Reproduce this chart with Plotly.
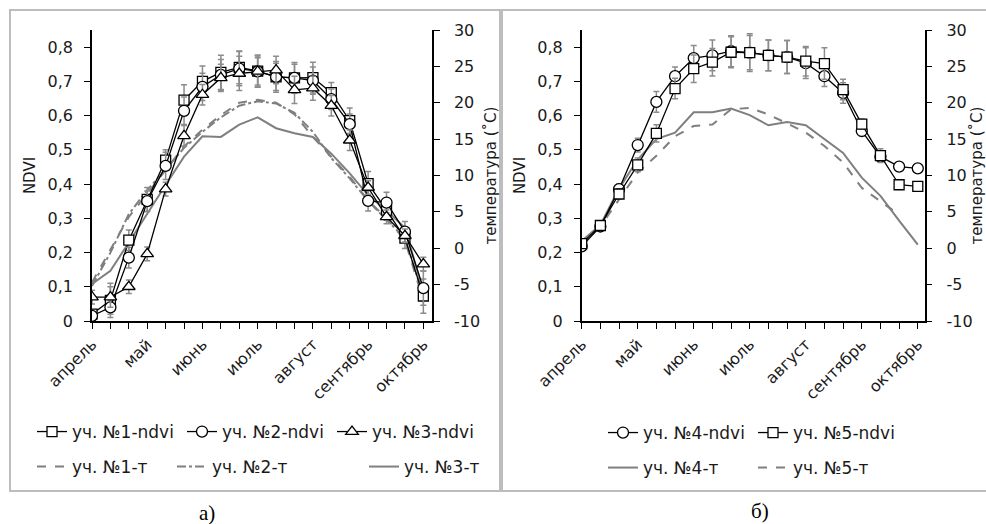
import plotly.graph_objects as go

W, H = 986, 524

# ---------------- data ----------------
idx = list(range(19))
month_ticks = ["апрель", "", "", "май", "", "", "июнь", "", "", "июль", "", "",
               "август", "", "", "сентябрь", "", "", "октябрь"]
ndvi_ticks = [0, 0.1, 0.2, 0.3, 0.4, 0.5, 0.6, 0.7, 0.8]
ndvi_tick_text = ["0", "0,1", "0,2", "0,3", "0,4", "0,5", "0,6", "0,7", "0,8"]
temp_ticks = [-10, -5, 0, 5, 10, 15, 20, 25, 30]
temp_tick_text = ["-10", "-5", "0", "5", "10", "15", "20", "25", "30"]

# panel a)
ndvi1 = [0.02, 0.06, 0.236, 0.355, 0.47, 0.645, 0.70, 0.726, 0.741, 0.73, 0.713, 0.71, 0.711, 0.667, 0.585, 0.401, 0.324, 0.242, 0.073]
ndvi2 = [0.015, 0.04, 0.185, 0.35, 0.453, 0.614, 0.684, 0.719, 0.737, 0.729, 0.713, 0.71, 0.702, 0.648, 0.575, 0.351, 0.346, 0.261, 0.096]
ndvi3 = [0.07, 0.07, 0.10, 0.196, 0.385, 0.541, 0.661, 0.71, 0.723, 0.729, 0.733, 0.675, 0.68, 0.629, 0.528, 0.39, 0.304, 0.249, 0.166]
err1 = [0.01, 0.05, 0.03, 0.035, 0.03, 0.045, 0.045, 0.05, 0.048, 0.047, 0.045, 0.045, 0.045, 0.03, 0.037, 0.036, 0.03, 0.03, 0.05]
err2 = [0.01, 0.02, 0.03, 0.03, 0.04, 0.04, 0.04, 0.045, 0.05, 0.045, 0.04, 0.04, 0.04, 0.03, 0.03, 0.03, 0.03, 0.03, 0.05]
err3 = [0.02, 0.03, 0.02, 0.02, 0.02, 0.03, 0.03, 0.04, 0.05, 0.04, 0.04, 0.04, 0.035, 0.03, 0.03, 0.02, 0.02, 0.02, 0.02]
temp1 = [-4.7, -0.3, 4.3, 7.5, 10.7, 14.0, 16.3, 18.3, 20.0, 20.4, 20.0, 18.4, 15.3, 12.6, 9.8, 6.6, 4.1, 1.1, -7.2]
temp2 = [-5.2, -0.6, 4.7, 8.0, 10.8, 13.8, 16.0, 18.0, 19.6, 20.2, 19.9, 18.6, 16.0, 12.4, 9.6, 6.5, 3.9, 1.4, -6.6]
temp3 = [-4.9, -3.1, 0.8, 4.8, 8.7, 12.6, 15.4, 15.3, 17.0, 18.0, 16.5, 15.8, 15.3, 13.0, 10.3, 7.3, 5.2, 2.8, -6.0]

# panel б)
ndvi4 = [0.218, 0.276, 0.385, 0.514, 0.64, 0.715, 0.768, 0.776, 0.788, 0.784, 0.776, 0.771, 0.753, 0.715, 0.666, 0.555, 0.48, 0.451, 0.446]
ndvi5 = [0.226, 0.279, 0.371, 0.456, 0.548, 0.679, 0.737, 0.756, 0.785, 0.784, 0.776, 0.771, 0.759, 0.752, 0.676, 0.575, 0.483, 0.398, 0.393]
err4 = [0.01, 0.01, 0.015, 0.02, 0.03, 0.027, 0.037, 0.045, 0.045, 0.055, 0.045, 0.048, 0.045, 0.03, 0.03, 0.015, 0.015, 0.0, 0.0]
err5 = [0.01, 0.01, 0.015, 0.02, 0.025, 0.03, 0.04, 0.04, 0.045, 0.05, 0.045, 0.048, 0.043, 0.046, 0.03, 0.015, 0.02, 0.0, 0.0]
temp4 = [1.0, 3.2, 8.2, 12.2, 15.0, 15.9, 18.7, 18.7, 19.2, 18.3, 16.9, 17.35, 16.9, 15.0, 13.1, 9.7, 7.2, 3.8, 0.5]
temp5 = [0.6, 3.0, 6.7, 10.4, 12.7, 15.4, 16.8, 17.0, 19.1, 19.3, 18.4, 17.2, 15.9, 14.05, 11.8, 8.3, 6.4, 4.6, None]

# ---------------- helpers ----------------
def fx(px):
    return px / W

def fy(py):
    return 1 - py / H

FONT = "DejaVu Sans"
TXT = "#1a1a1a"
GREY = "#7f7f7f"
ERR = "#8c8c8c"

fig = go.Figure()

def ndvi_trace(y, err, name, symbol, size, xa, ya, legend):
    return go.Scatter(
        x=idx, y=y, name=name, mode="lines+markers",
        xaxis=xa, yaxis=ya, legend=legend,
        line=dict(color="black", width=1.3),
        marker=dict(symbol=symbol, size=size, color="white",
                    line=dict(color="black", width=1.3)),
        error_y=dict(type="data", array=err, visible=True,
                     color=ERR, thickness=1.5, width=3),
    )

def temp_trace(y, name, dash, xa, ya, legend):
    return go.Scatter(
        x=idx, y=y, name=name, mode="lines",
        xaxis=xa, yaxis=ya, legend=legend,
        line=dict(color=GREY, width=2, dash=dash),
    )

# panel a) temperature on base axis (y), NDVI on overlay (y2)
fig.add_trace(temp_trace(temp1, "уч. №1-т", "dash", "x", "y", "legend2"))
fig.add_trace(temp_trace(temp2, "уч. №2-т", "dashdot", "x", "y", "legend5"))
fig.add_trace(temp_trace(temp3, "уч. №3-т", "solid", "x", "y", "legend6"))
fig.add_trace(ndvi_trace(ndvi1, err1, "уч. №1-ndvi", "square", 10, "x", "y2", "legend"))
fig.add_trace(ndvi_trace(ndvi2, err2, "уч. №2-ndvi", "circle", 11, "x", "y2", "legend"))
fig.add_trace(ndvi_trace(ndvi3, err3, "уч. №3-ndvi", "triangle-up", 11, "x", "y2", "legend"))

# panel б)
fig.add_trace(temp_trace(temp4, "уч. №4-т", "solid", "x2", "y3", "legend4"))
fig.add_trace(temp_trace(temp5, "уч. №5-т", "dash", "x2", "y3", "legend4"))
fig.add_trace(ndvi_trace(ndvi4, err4, "уч. №4-ndvi", "circle", 11, "x2", "y4", "legend3"))
fig.add_trace(ndvi_trace(ndvi5, err5, "уч. №5-ndvi", "square", 10, "x2", "y4", "legend3"))

tickfont = dict(family=FONT, size=16, color=TXT)
titlefont = dict(family=FONT, size=15, color=TXT)

def xaxis_cfg(dom, rmax):
    return dict(domain=dom, range=[0, rmax], tickvals=idx, ticktext=month_ticks,
                tickangle=-45, ticks="outside", ticklen=6, tickwidth=1.3,
                tickcolor="black", showline=True, linecolor="black", linewidth=1.5,
                showgrid=False, zeroline=False, tickfont=tickfont,
                fixedrange=True)

def temp_axis(anchor):
    return dict(domain=[fy(321), fy(30)], range=[-10, 30], side="right", anchor=anchor,
                tickvals=temp_ticks, ticktext=temp_tick_text, ticks="outside",
                ticklen=6, tickwidth=1.3, tickcolor="black", showline=True,
                linecolor="black", linewidth=1.5, showgrid=False, zeroline=False,
                tickfont=tickfont, ticklabelstandoff=11,
                title=dict(text="температура (˚C)", font=titlefont, standoff=6))

def ndvi_axis(anchor, over):
    return dict(overlaying=over, range=[0, 0.85], side="left", anchor=anchor,
                tickvals=ndvi_ticks, ticktext=ndvi_tick_text, ticks="outside",
                ticklen=6, tickwidth=1.3, tickcolor="black", showline=True,
                linecolor="black", linewidth=1.5, showgrid=False, zeroline=False,
                tickfont=tickfont, ticklabelstandoff=8,
                title=dict(text="NDVI", font=titlefont, standoff=8))

def legend_cfg(xpx, ypx):
    return dict(orientation="h", x=fx(xpx), xanchor="left", y=fy(ypx), yanchor="middle",
                entrywidth=105, entrywidthmode="pixels", itemwidth=30,
                font=dict(family=FONT, size=17, color=TXT),
                bgcolor="rgba(0,0,0,0)", borderwidth=0, traceorder="normal")

fig.update_layout(
    width=W, height=H,
    margin=dict(l=0, r=0, t=0, b=0, autoexpand=False),
    paper_bgcolor="white", plot_bgcolor="white",
    font=dict(family=FONT, size=15, color=TXT),
    hovermode=False,
    showlegend=True,
    xaxis=xaxis_cfg([fx(92), fx(432)], 18.47),
    yaxis=temp_axis("x"),
    yaxis2=ndvi_axis("x", "y"),
    xaxis2=xaxis_cfg([fx(581.7), fx(924.5)], 18.36),
    yaxis3=temp_axis("x2"),
    yaxis4=ndvi_axis("x2", "y3"),
    legend=legend_cfg(32, 432),
    legend2=legend_cfg(32, 467),
    legend5=legend_cfg(172, 467),
    legend6=legend_cfg(364, 467),
    legend3=legend_cfg(603, 433),
    legend4=legend_cfg(603, 468),
    shapes=[
        dict(type="rect", xref="paper", yref="paper", x0=fx(10), x1=fx(500),
             y0=fy(491), y1=fy(10), line=dict(color="#bdbdbd", width=2), layer="below"),
        dict(type="rect", xref="paper", yref="paper", x0=fx(502), x1=fx(992),
             y0=fy(491), y1=fy(10), line=dict(color="#bdbdbd", width=2), layer="below"),
    ],
    annotations=[
        dict(text="а)", xref="paper", yref="paper", x=fx(207), y=fy(513),
             xanchor="center", yanchor="middle", showarrow=False,
             font=dict(family="Liberation Serif", size=21, color="black")),
        dict(text="б)", xref="paper", yref="paper", x=fx(760), y=fy(511),
             xanchor="center", yanchor="middle", showarrow=False,
             font=dict(family="Liberation Serif", size=21, color="black")),
    ],
)

fig.write_html("out.html")
